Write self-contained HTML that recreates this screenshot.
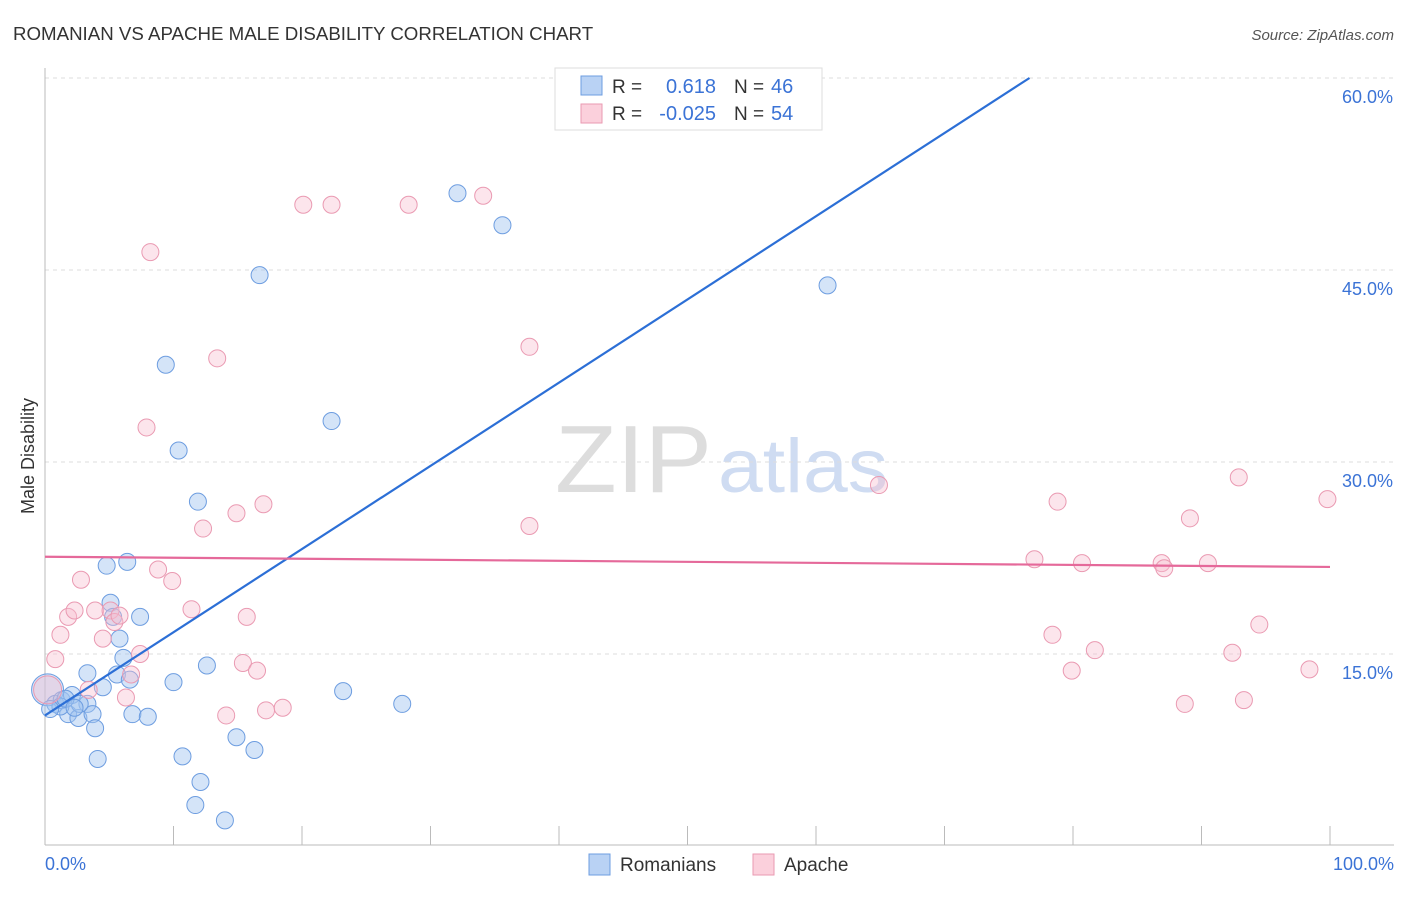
<!DOCTYPE html>
<html><head><meta charset="utf-8"><style>
body{margin:0;background:#fff;font-family:"Liberation Sans",sans-serif}
svg text{font-family:"Liberation Sans",sans-serif}
</style></head><body>
<svg id="c" width="1406" height="892">
<text x="13" y="40" font-size="18.7" fill="#333">ROMANIAN VS APACHE MALE DISABILITY CORRELATION CHART</text>
<text x="1394" y="40" font-size="15" fill="#555" font-style="italic" text-anchor="end">Source: ZipAtlas.com</text>
<g><text x="555" y="492" font-size="96" fill="#ddd" font-family="Liberation Serif" textLength="157" lengthAdjust="spacingAndGlyphs">ZIP</text><text x="718" y="492" font-size="76" fill="#cfdcf2" textLength="170" lengthAdjust="spacingAndGlyphs">atlas</text></g>
<g id="grid"></g><g id="pts"></g><g id="lines"></g>
<text transform="translate(34,456) rotate(-90)" font-size="18" fill="#333" text-anchor="middle">Male Disability</text>
<text x="45" y="870" font-size="18" fill="#3b73d6">0.0%</text>
<text x="1394" y="870" font-size="18" fill="#3b73d6" text-anchor="end">100.0%</text>
<g>
<rect x="555" y="68" width="267" height="62" fill="#fff" stroke="#ddd"/>
<rect x="581" y="76" width="21" height="19" fill="#b9d2f4" stroke="#6d9de0"/>
<rect x="581" y="104" width="21" height="19" fill="#fbd0dc" stroke="#ea9ab2"/>
<text x="612" y="93" font-size="19" fill="#333">R =</text><text x="716" y="93" font-size="20" fill="#3b73d6" text-anchor="end">0.618</text>
<text x="734" y="93" font-size="19" fill="#333">N =</text><text x="771" y="93" font-size="20" fill="#3b73d6">46</text>
<text x="612" y="120" font-size="19" fill="#333">R =</text><text x="716" y="120" font-size="20" fill="#3b73d6" text-anchor="end">-0.025</text>
<text x="734" y="120" font-size="19" fill="#333">N =</text><text x="771" y="120" font-size="20" fill="#3b73d6">54</text>
</g>
<g>
<rect x="589" y="854" width="21" height="21" fill="#b9d2f4" stroke="#6d9de0"/><text x="620" y="871" font-size="19" fill="#333">Romanians</text>
<rect x="753" y="854" width="21" height="21" fill="#fbd0dc" stroke="#ea9ab2"/><text x="784" y="871" font-size="19" fill="#333">Apache</text>
</g>
</svg>
<script>
const yTicks=[15,30,45,60];
const yTickLabels=["15.0%","30.0%","45.0%","60.0%"];
const romX=[0.2,0.8,1.3,2.1,1.8,2.6,3.3,3.7,3.9,4.1,4.5,2.7,3.3,4.8,5.1,5.3,5.8,6.1,5.6,6.6,6.8,7.4,8.0,6.4,9.4,10.4,10.0,10.7,11.7,12.1,12.6,11.9,14.0,14.9,16.3,16.7,22.3,23.2,27.8,32.1,35.6,60.9,1.2,1.6,2.3,0.4];
const romY=[12.2,11.1,11.4,11.8,10.3,10.0,11.1,10.3,9.2,6.8,12.4,11.1,13.5,21.9,19.0,17.9,16.2,14.7,13.4,13.0,10.3,17.9,10.1,22.2,37.6,30.9,12.8,7.0,3.2,5.0,14.1,26.9,2.0,8.5,7.5,44.6,33.2,12.1,11.1,51.0,48.5,43.8,10.9,11.5,10.8,10.7];
const apaX=[0.8,1.2,1.8,2.3,2.8,3.4,3.9,4.5,5.1,5.4,5.8,6.3,6.7,7.4,7.9,8.2,8.8,9.9,11.4,12.3,13.4,14.1,14.9,15.4,15.7,16.5,17.0,17.2,18.5,20.1,22.3,28.3,34.1,37.7,37.7,64.9,77.0,78.4,78.8,79.9,80.7,81.7,86.9,87.1,88.7,89.1,90.5,92.4,92.9,93.3,94.5,98.4,99.8,0.2];
const apaY=[14.6,16.5,17.9,18.4,20.8,12.2,18.4,16.2,18.4,17.5,18.0,11.6,13.4,15.0,32.7,46.4,21.6,20.7,18.5,24.8,38.1,10.2,26.0,14.3,17.9,13.7,26.7,10.6,10.8,50.1,50.1,50.1,50.8,39.0,25.0,28.2,22.4,16.5,26.9,13.7,22.1,15.3,22.1,21.7,11.1,25.6,22.1,15.1,28.8,11.4,17.3,13.8,27.1,12.2];
const romLine=[10.2,0.65];const apaLine=[22.6,-0.008];
const NS="http://www.w3.org/2000/svg";
const sx=v=>45+v*12.85, sy=v=>654-(v-15)*12.8;
function mk(t,a,p){const e=document.createElementNS(NS,t);for(const k in a)e.setAttribute(k,a[k]);p.appendChild(e);return e;}
const g=document.getElementById('grid');
yTicks.forEach((t,i)=>{
 const l=mk('line',{x1:45,x2:1394,y1:sy(t),y2:sy(t),stroke:'#ddd','stroke-dasharray':'4,4'},g);
 
 
 const tx=mk('text',{x:1393,y:sy(t)+25,'font-size':18,fill:'#3b73d6','text-anchor':'end'},g);
 tx.textContent=yTickLabels[i];
 
 
});
const ax=mk('line',{x1:45,x2:45,y1:68,y2:845,stroke:'#bbb'},g);


const bx=mk('line',{x1:45,x2:1394,y1:845,y2:845,stroke:'#bbb'},g);


for(let i=1;i<=10;i++){const t=mk('line',{x1:sx(i*10),x2:sx(i*10),y1:826,y2:845,stroke:'#bbb'},g);
 
 }
const p=document.getElementById('pts');
romX.forEach((x,i)=>{const c=mk('circle',{cx:sx(x),cy:sy(romY[i]),r:i==0?16:8.5,fill:'rgba(160,195,240,0.45)',stroke:'#6d9de0','stroke-width':1},p);
 
 });
apaX.forEach((x,i)=>{const c=mk('circle',{cx:sx(x),cy:sy(apaY[i]),r:i==apaX.length-1?14:8.5,fill:'rgba(248,190,208,0.4)',stroke:'#ea9ab2','stroke-width':1},p);
 
 });
const L=document.getElementById('lines');
const xe=(60-romLine[0])/romLine[1];
const r1=mk('line',{x1:sx(0),y1:sy(romLine[0]),x2:sx(xe),y2:sy(60),stroke:'#2c6fd6','stroke-width':2.2},L);


const r2=mk('line',{x1:sx(0),y1:sy(apaLine[0]),x2:sx(100),y2:sy(apaLine[0]+apaLine[1]*100),stroke:'#e5699a','stroke-width':2.2},L);


</script>
</body></html>
